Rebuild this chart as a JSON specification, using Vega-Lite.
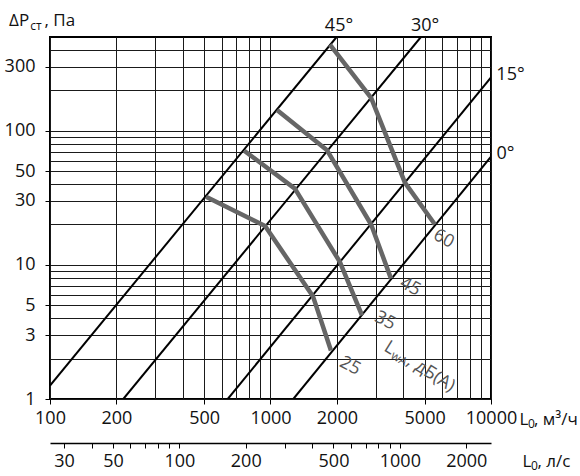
{
  "$schema": "https://vega.github.io/schema/vega-lite/v6.json",
  "width": 441,
  "height": 362,
  "autosize": {"type": "none"},
  "padding": {"left": 50, "top": 37, "right": 89, "bottom": 77},
  "background": "white",
  "config": {
    "view": {"stroke": "#000", "strokeWidth": 2},
    "font": "Open Sans",
    "axis": {
      "labelFont": "Open Sans",
      "labelFontSize": 18,
      "labelColor": "#111",
      "domain": false,
      "tickColor": "#000",
      "tickWidth": 1,
      "title": null,
      "labelFlush": false,
      "labelOverlap": false,
      "labelBound": false
    },
    "text": {"font": "Open Sans", "fill": "#111"}
  },
  "datasets": {
    "diagonal": [
      {"angle": "45°", "L": 100, "dP": 1.26},
      {"angle": "45°", "L": 1994, "dP": 500},
      {"angle": "30°", "L": 215, "dP": 1},
      {"angle": "30°", "L": 4808, "dP": 500},
      {"angle": "15°", "L": 640, "dP": 1},
      {"angle": "15°", "L": 10000, "dP": 250},
      {"angle": "0°", "L": 1269, "dP": 1},
      {"angle": "0°", "L": 10000, "dP": 64}
    ],
    "noise": [
      {"level": 25, "L": 510, "dP": 32.2},
      {"level": 25, "L": 945, "dP": 19.5},
      {"level": 25, "L": 1560, "dP": 5.8},
      {"level": 25, "L": 1880, "dP": 2.3},
      {"level": 35, "L": 760, "dP": 71},
      {"level": 35, "L": 1290, "dP": 37},
      {"level": 35, "L": 2065, "dP": 10.5},
      {"level": 35, "L": 2600, "dP": 4.2},
      {"level": 45, "L": 1070, "dP": 143},
      {"level": 45, "L": 1800, "dP": 72},
      {"level": 45, "L": 2860, "dP": 20},
      {"level": 45, "L": 3520, "dP": 7.9},
      {"level": 60, "L": 1860, "dP": 438},
      {"level": 60, "L": 2860, "dP": 176},
      {"level": 60, "L": 4070, "dP": 41},
      {"level": 60, "L": 5570, "dP": 20}
    ],
    "angleLabels": [
      {"text": "45°", "L": 2045, "dP": 557},
      {"text": "30°", "L": 5021, "dP": 557},
      {"text": "15°", "L": 12258, "dP": 240},
      {"text": "0°", "L": 11636, "dP": 61.5}
    ],
    "levelLabels": [
      {"text": "60", "L": 6100, "dP": 15.6},
      {"text": "45", "L": 4300, "dP": 6.85},
      {"text": "35", "L": 3306, "dP": 3.82},
      {"text": "25", "L": 2294, "dP": 1.76}
    ],
    "lwaMain": [
      {"text": "L", "L": 3237, "dP": 2.32},
      {"text": ", дБ(A)", "L": 4110, "dP": 1.82}
    ],
    "lwaSub": [
      {"text": "wA", "L": 3480, "dP": 2.04}
    ],
    "titleMain": [
      {"text": "ΔP", "L": 65.2, "dP": 607.6},
      {"text": ", Па", "L": 94.4, "dP": 607.6},
      {"text": "L", "L": 13467, "dP": 0.6396},
      {"text": ", м³/ч", "L": 15668, "dP": 0.6396},
      {"text": "L", "L": 13900, "dP": 0.3125},
      {"text": ", л/с", "L": 16254, "dP": 0.3125}
    ],
    "titleSub": [
      {"text": "ст", "L": 81.4, "dP": 560.4},
      {"text": "0", "L": 14718, "dP": 0.6074},
      {"text": "0", "L": 15185, "dP": 0.2952}
    ],
    "flowLs": [
      {"Ls": 30},
      {"Ls": 2000}
    ]
  },
  "layer": [
    {
      "encoding": {
        "x": {
          "field": "L",
          "type": "quantitative",
          "scale": {"type": "log", "domain": [100, 10000], "nice": false},
          "axis": {
            "orient": "bottom",
            "values": [100, 200, 300, 400, 500, 600, 700, 800, 900, 1000, 2000, 3000, 4000, 5000, 6000, 7000, 8000, 9000, 10000],
            "grid": true,
            "gridColor": "#1a1a1a",
            "gridWidth": 1,
            "labelExpr": "indexof([100, 200, 500, 1000, 2000, 5000, 10000], datum.value) >= 0 ? '' + datum.value : ''",
            "tickSize": 5,
            "tickOpacity": {"condition": {"test": "indexof([100, 200, 500, 1000, 2000, 5000, 10000], datum.value) < 0", "value": 0}, "value": 1},
            "labelPadding": 5
          }
        },
        "y": {
          "field": "dP",
          "type": "quantitative",
          "scale": {"type": "log", "domain": [1, 500], "nice": false},
          "axis": {
            "values": [1, 2, 3, 4, 5, 6, 7, 8, 9, 10, 20, 30, 40, 50, 60, 70, 80, 90, 100, 200, 300, 400],
            "grid": true,
            "gridColor": "#1a1a1a",
            "gridWidth": 1,
            "labelExpr": "indexof([1, 3, 5, 10, 30, 50, 100, 300], datum.value) >= 0 ? '' + datum.value : ''",
            "tickSize": 5,
            "tickOpacity": {"condition": {"test": "indexof([1, 3, 5, 10, 30, 50, 100, 300], datum.value) < 0", "value": 0}, "value": 1},
            "labelPadding": 10
          }
        }
      },
      "layer": [
        {
          "data": {"name": "diagonal"},
          "mark": {"type": "line", "color": "#000", "strokeWidth": 2, "clip": true},
          "encoding": {"detail": {"field": "angle"}}
        },
        {
          "data": {"name": "noise"},
          "mark": {"type": "line", "color": "#666", "strokeWidth": 4.5, "strokeJoin": "round"},
          "encoding": {"detail": {"field": "level"}}
        },
        {
          "data": {"name": "angleLabels"},
          "mark": {"type": "text", "fontSize": 18, "align": "center", "baseline": "alphabetic"},
          "encoding": {"text": {"field": "text"}}
        },
        {
          "data": {"name": "levelLabels"},
          "mark": {"type": "text", "fontSize": 18, "align": "center", "baseline": "middle", "angle": 28, "fill": "#555"},
          "encoding": {"text": {"field": "text"}}
        },
        {
          "data": {"name": "lwaMain"},
          "mark": {"type": "text", "fontSize": 18, "align": "left", "baseline": "alphabetic", "angle": 32, "fill": "#555"},
          "encoding": {"text": {"field": "text"}}
        },
        {
          "data": {"name": "lwaSub"},
          "mark": {"type": "text", "fontSize": 12, "align": "left", "baseline": "alphabetic", "angle": 32, "fill": "#555"},
          "encoding": {"text": {"field": "text"}}
        },
        {
          "data": {"name": "titleMain"},
          "mark": {"type": "text", "fontSize": 17, "align": "left", "baseline": "alphabetic"},
          "encoding": {"text": {"field": "text"}}
        },
        {
          "data": {"name": "titleSub"},
          "mark": {"type": "text", "fontSize": 12, "align": "left", "baseline": "alphabetic"},
          "encoding": {"text": {"field": "text"}}
        }
      ]
    },
    {
      "data": {"name": "flowLs"},
      "mark": {"type": "point", "opacity": 0},
      "encoding": {
        "x": {
          "field": "Ls",
          "type": "quantitative",
          "scale": {"type": "log", "domain": [25.9, 2590], "nice": false},
          "axis": {
            "orient": "bottom",
            "offset": 44,
            "domain": true,
            "domainColor": "#000",
            "domainWidth": 1.5,
            "grid": false,
            "values": [30, 40, 50, 60, 70, 80, 90, 100, 200, 300, 400, 500, 600, 700, 800, 900, 1000, 2000],
            "labelExpr": "indexof([30, 50, 100, 200, 500, 1000, 2000], datum.value) >= 0 ? '' + datum.value : ''",
            "tickSize": 5,
            "labelPadding": 4
          }
        }
      }
    }
  ],
  "resolve": {"scale": {"x": "independent"}, "axis": {"x": "independent"}}
}
